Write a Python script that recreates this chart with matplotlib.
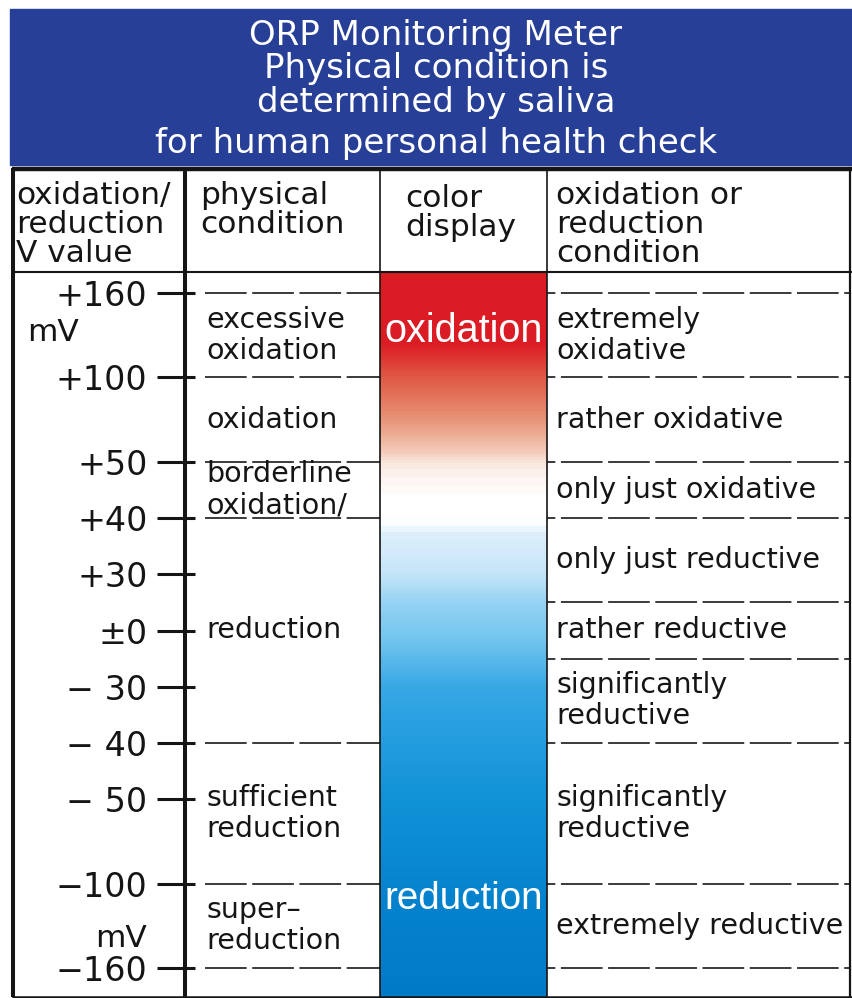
import numpy as np
import matplotlib
matplotlib.use("Agg")
import matplotlib.pyplot as plt
from matplotlib import font_manager as fm
from matplotlib.colors import LinearSegmentedColormap, Normalize
from matplotlib.patches import Rectangle
from matplotlib.ticker import NullFormatter

plt.rcParams["lines.scale_dashes"] = False

# ---------------- data ----------------
TITLE_LINES = ["ORP Monitoring Meter", "Physical condition is",
               "determined by saliva", "for human personal health check"]
HEADERS = ["oxidation/\nreduction\nV value", "physical\ncondition",
           "color\ndisplay", "oxidation or\nreduction\ncondition"]
TICK_VALUES = [160, 100, 50, 40, 30, 0, -30, -40, -50, -100, -160]
TICK_LABELS = ["+160", "+100", "+50", "+40", "+30", "±0",
               "− 30", "− 40", "− 50", "−100", "−160"]
UNIT_LABEL = "mV"
PHYS_TOP = [160, 100, 50, 40, -40, -100]
PHYS_BOTTOM = [100, 50, 40, -40, -100, -160]
PHYS_LABELS = ["excessive\noxidation", "oxidation", "borderline\noxidation/",
               "reduction", "sufficient\nreduction", "super–\nreduction"]
COND_TOP = [160, 100, 50, 40, 15, -15, -40, -100]
COND_BOTTOM = [100, 50, 40, 15, -15, -40, -100, -160]
COND_LABELS = ["extremely\noxidative", "rather oxidative", "only just oxidative",
               "only just reductive", "rather reductive", "significantly\nreductive",
               "significantly\nreductive", "extremely reductive"]
BAR_LABELS = ["oxidation", "reduction"]
GRAD_MV = [175, 124, 100, 74, 56, 48, 44, 40, 37, 30, 15, -5, -35, -50, -110, -181]
GRAD_COLORS = ["#dc1c24", "#dc1c24", "#df5a44", "#e8967a", "#f3cbb9", "#fcf0ea",
               "#ffffff", "#ffffff", "#dceefa", "#c3e4f7", "#96d2f3", "#72c4ee",
               "#2ca2e1", "#1092d7", "#0582cd", "#007ac6"]

# ---------------- layout ----------------
W, H = 852, 998
BLUE = "#283f97"
INK = "#151515"
BODY_TOP, BODY_BOT = 272, 997
TOP_TICK_PX, BOT_TICK_PX = 293, 968
AXIS_X = 185
LEFT_X, COL2_X, COL3_X, RIGHT_X = 13, 380, 547, 850


def has_font(name):
    try:
        fm.findfont(fm.FontProperties(family=name), fallback_to_default=False)
        return True
    except Exception:
        return False


ARIAL = "Liberation Sans" if has_font("Liberation Sans") else "DejaVu Sans"
BODYF = "DejaVu Sans"

# piecewise-linear value scale (wider gaps for larger steps)
tv = np.array(sorted(TICK_VALUES), float)
gw = np.where(np.diff(tv) >= 50, 1.5, 1.0)
tp = np.concatenate([[0.0], np.cumsum(gw)])


def _ext(x, xp, fp):
    x = np.asarray(x, float)
    y = np.interp(x, xp, fp)
    s0 = (fp[1] - fp[0]) / (xp[1] - xp[0])
    s1 = (fp[-1] - fp[-2]) / (xp[-1] - xp[-2])
    y = np.where(x < xp[0], fp[0] + (x - xp[0]) * s0, y)
    y = np.where(x > xp[-1], fp[-1] + (x - xp[-1]) * s1, y)
    return y


def fwd(v):
    return _ext(v, tv, tp)


def inv(u):
    return _ext(u, tp, tv)


ppu = (BOT_TICK_PX - TOP_TICK_PX) / tp[-1]
y_hi = float(inv(tp[-1] + (TOP_TICK_PX - BODY_TOP) / ppu))
y_lo = float(inv(0 - (BODY_BOT - BOT_TICK_PX) / ppu))

fig = plt.figure(figsize=(W / 100, H / 100), dpi=100)
fig.patch.set_facecolor("white")

ax = fig.add_axes([0, (H - BODY_BOT) / H, 1, (BODY_BOT - BODY_TOP) / H], zorder=2)
ax.set_xlim(0, W)
ax.set_yscale("function", functions=(fwd, inv))
ax.set_ylim(y_lo, y_hi)
ax.patch.set_alpha(0)
for s in ["top", "right", "bottom"]:
    ax.spines[s].set_visible(False)
ax.spines["left"].set_position(("data", AXIS_X))
ax.spines["left"].set_linewidth(2.9)
ax.spines["left"].set_color(INK)
ax.xaxis.set_visible(False)
ax.set_yticks(TICK_VALUES, labels=TICK_LABELS)
ax.set_yticks(TICK_VALUES, minor=True)
ax.yaxis.remove_overlapping_locs = False
ax.yaxis.set_minor_formatter(NullFormatter())
ax.tick_params(axis="y", which="major", direction="out", length=20, width=2.2,
               pad=7, labelsize=24, color=INK, labelcolor=INK,
               labelfontfamily="DejaVu Sans")
ax.tick_params(axis="y", which="minor", direction="in", length=7.2, width=2.2, color=INK)

# colour bar gradient
order = np.argsort(GRAD_MV)
gmv = np.array(GRAD_MV, float)[order]
gcol = [GRAD_COLORS[i] for i in order]
norm = Normalize(y_lo, y_hi)
cmap = LinearSegmentedColormap.from_list(
    "orp", list(zip(np.clip(norm(gmv), 0, 1), gcol)))
ye = np.linspace(y_lo, y_hi, 700)
yc = 0.5 * (ye[1:] + ye[:-1])
ax.pcolormesh([COL2_X, COL3_X], ye, yc.reshape(-1, 1), cmap=cmap, norm=norm,
              shading="flat", zorder=1)

# band boundaries (dashed)
phys_bounds = sorted(set(PHYS_TOP) | set(PHYS_BOTTOM))
cond_bounds = sorted(set(COND_TOP) | set(COND_BOTTOM))
ax.hlines(phys_bounds, 205, COL2_X, colors="#222222", linewidth=1.25,
          linestyles=[(0, (30, 4))])
ax.hlines(cond_bounds, COL3_X, RIGHT_X, colors="#222222", linewidth=1.25,
          linestyles=[(24, (30, 4))])


def band_mid(t, b):
    return float(inv(0.5 * (fwd(t) + fwd(b))))


for t, b, lab in zip(PHYS_TOP, PHYS_BOTTOM, PHYS_LABELS):
    ax.text(206, band_mid(t, b), lab, ha="left", va="center", fontsize=20.5,
            family=BODYF, color=INK, linespacing=1.13)
for t, b, lab in zip(COND_TOP, COND_BOTTOM, COND_LABELS):
    ax.text(556, band_mid(t, b), lab, ha="left", va="center", fontsize=20.5,
            family=BODYF, color=INK, linespacing=1.13)

# unit labels
ax.text(27, band_mid(160, 100) + 2, UNIT_LABEL, ha="left", va="center",
        fontsize=22.5, family="DejaVu Sans", color=INK)
ax.text(147, band_mid(-100, -160) - 9, UNIT_LABEL, ha="right", va="center",
        fontsize=22.5, family="DejaVu Sans", color=INK)

# labels inside the colour bar (sized to the bar width)
bx = 0.5 * (COL2_X + COL3_X)
fig.canvas.draw()
rend = fig.canvas.get_renderer()
for lab, (t, b), dy in zip(BAR_LABELS, [(160, 100), (-100, -160)], [3, 19]):
    tt = ax.text(bx, band_mid(t, b) + dy, lab, ha="center", va="center",
                 color="white", fontsize=30, family=ARIAL)
    wpx = tt.get_window_extent(rend).width
    tt.set_fontsize(30 * 158.0 / wpx)

# ---------------- overlay: header, borders ----------------
ov = fig.add_axes([0, 0, 1, 1], zorder=3)
ov.set_xlim(0, W)
ov.set_ylim(H, 0)
ov.axis("off")
ov.patch.set_alpha(0)

ov.add_patch(Rectangle((10, 9), W - 10, 156, color=BLUE, zorder=0))
for line, base in zip(TITLE_LINES, [45, 78, 112, 153]):
    ov.text(436, base, line, ha="center", va="baseline", color="white",
            fontsize=24.5, family="DejaVu Sans")

# header column labels
head_x = [16, 200, 405, 556]
head_top = [181, 181, 184, 181]
for x, y, txt in zip(head_x, head_top, HEADERS):
    ov.text(x, y, txt, ha="left", va="top", color=INK, fontsize=22.5,
            family="DejaVu Sans", linespacing=1.0)

# frame lines
ov.plot([LEFT_X - 1, W], [169, 169], color=INK, lw=3.2, solid_capstyle="butt")
ov.plot([LEFT_X, W], [BODY_TOP, BODY_TOP], color=INK, lw=1.5)
ov.plot([LEFT_X, W], [BODY_BOT - 0.5, BODY_BOT - 0.5], color=INK, lw=1.8)
ov.plot([LEFT_X, LEFT_X], [168, BODY_BOT], color=INK, lw=2.9, solid_capstyle="butt")
ov.plot([RIGHT_X, RIGHT_X], [168, BODY_BOT], color=INK, lw=1.6)
ov.plot([AXIS_X, AXIS_X], [168, BODY_TOP], color=INK, lw=2.9, solid_capstyle="butt")
for x in (COL2_X, COL3_X):
    ov.plot([x, x], [168, BODY_BOT], color=INK, lw=1.2)

fig.savefig("out.png", dpi=100, facecolor="white")
